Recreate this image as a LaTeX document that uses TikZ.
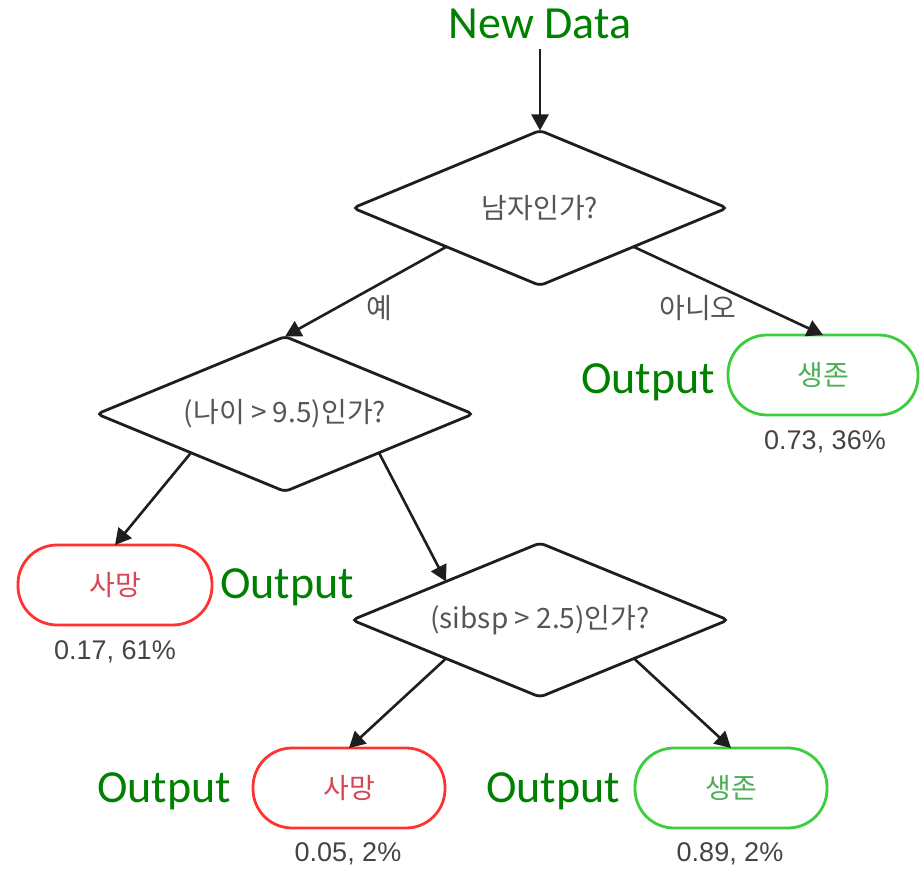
\documentclass[tikz,border=0pt]{standalone}
\usepackage{fontspec}
\setmainfont{Liberation Sans}
\newfontfamily\krfont{Noto Sans CJK KR}
\newfontfamily\calfont{Carlito}
\usetikzlibrary{shapes.geometric,arrows.meta}

\definecolor{labelgreen}{RGB}{0,128,0}
\definecolor{qgray}{RGB}{85,85,85}
\definecolor{valgray}{RGB}{68,68,68}
\definecolor{linegray}{RGB}{30,30,30}
\definecolor{dieborder}{RGB}{255,50,50}
\definecolor{dietext}{RGB}{215,70,85}
\definecolor{liveborder}{RGB}{60,205,60}
\definecolor{livetext}{RGB}{75,175,85}

\tikzset{
  question/.style={diamond, draw=linegray, line width=2.8pt, rounded corners=5pt,
    inner sep=0pt, outer sep=0pt},
  qtext/.style={text=qgray, inner sep=0pt,
    font=\krfont\fontsize{28}{32}\selectfont},
  leafbox/.style={rectangle, line width=2.8pt, rounded corners=39pt,
    minimum width=192pt, minimum height=80pt, inner sep=0pt, outer sep=0pt,
    font=\krfont\fontsize{28}{32}\selectfont},
  dieleaf/.style={leafbox, draw=dieborder, text=dietext},
  liveleaf/.style={leafbox, draw=liveborder, text=livetext},
  outlabel/.style={text=labelgreen, font=\calfont\fontsize{46}{52}\selectfont,
    anchor=base, inner sep=0pt},
  stat/.style={text=valgray, font=\fontsize{27}{31}\selectfont, inner sep=0pt},
  branch/.style={text=qgray, font=\krfont\fontsize{28}{32}\selectfont, inner sep=0pt},
  flow/.style={draw=linegray, line width=2.6pt,
    -{Triangle[length=16pt,width=17pt]}}
}

\begin{document}
\begin{tikzpicture}[x=1pt,y=-1pt]
  \useasboundingbox (0,0) rectangle (920,869);

  % entry label
  \node[outlabel] (newdata) at (540,39) {New Data};
  \coordinate (entry) at (540,49);

  % decision diamonds (size fixed; question text sits in a centred label)
  \node[question, minimum width=374pt, minimum height=155pt,
        label={[qtext]center:남자인가?}] (d1) at (540,208) {};
  \node[question, minimum width=376pt, minimum height=155pt,
        label={[qtext]center:(나이 > 9.5)인가?}] (d2) at (285,414) {};
  \node[question, minimum width=376pt, minimum height=154pt,
        label={[qtext]center:(sibsp > 2.5)인가?}] (d3) at (540,620) {};

  % leaves
  \node[liveleaf, minimum width=190pt] (t1) at (823,375) {생존};
  \node[dieleaf, minimum width=194pt] (t2) at (115,585) {사망};
  \node[dieleaf] (b1) at (349,788) {사망};
  \node[liveleaf] (b2) at (731,788) {생존};

  % leaf statistics
  \node[stat] (s1) at (825,442) {0.73, 36\%};
  \node[stat] (s2) at (115,652) {0.17, 61\%};
  \node[stat] (s3) at (348,854) {0.05, 2\%};
  \node[stat] (s4) at (730,854) {0.89, 2\%};

  % output tags
  \node[outlabel] (o1) at (648,393) {Output};
  \node[outlabel] (o2) at (287,598) {Output};
  \node[outlabel] (o3) at (164,802) {Output};
  \node[outlabel] (o4) at (553,802) {Output};

  % connectors
  \draw[flow] (entry) -- (d1.north);
  \draw[flow] (d1.south west) -- (d2.north);
  \draw[flow] (d1.south east) -- (t1.north);
  \draw[flow] (d2.south west) -- (t2.north);
  \draw[flow] (d2.south east) -- (d3.north west);
  \draw[flow] (d3.south west) -- (b1.north);
  \draw[flow] (d3.south east) -- (b2.north);

  % branch labels
  \node[branch] (yes) at (379,308) {예};
  \node[branch] (no) at (698,308) {아니오};
\end{tikzpicture}
\end{document}
